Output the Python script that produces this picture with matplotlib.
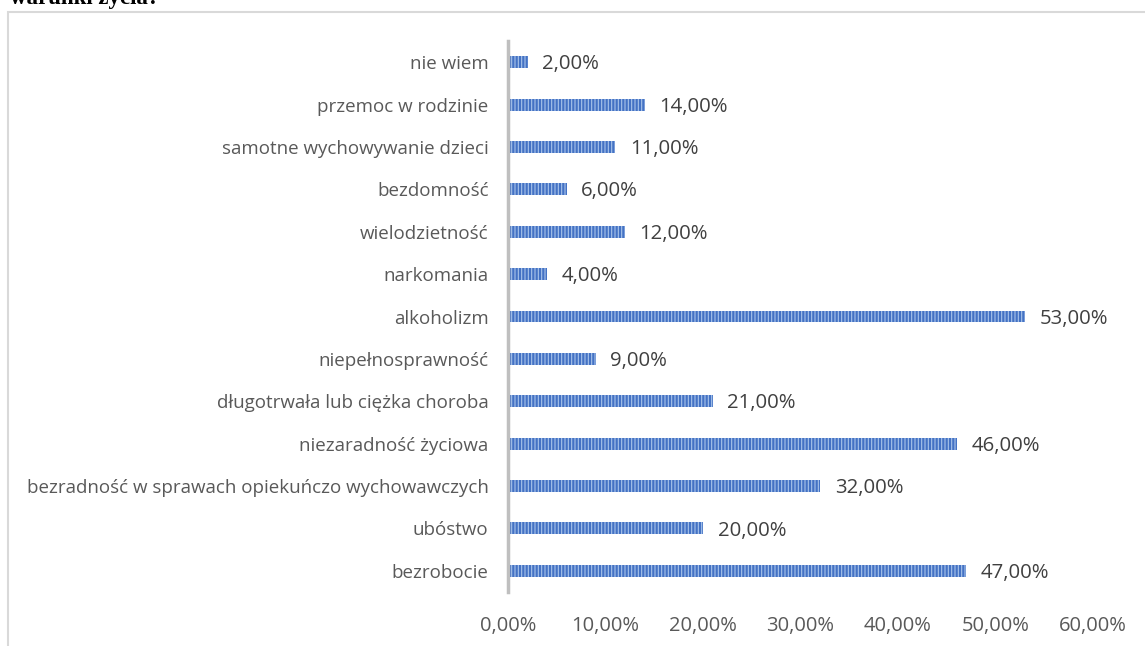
import matplotlib.pyplot as plt
from matplotlib.patches import Rectangle
from matplotlib.ticker import FuncFormatter

# categories from bottom to top
categories = [
    'bezrobocie', 'ubóstwo', 'bezradność w sprawach opiekuńczo wychowawczych',
    'niezaradność życiowa', 'długotrwała lub ciężka choroba', 'niepełnosprawność',
    'alkoholizm', 'narkomania', 'wielodzietność', 'bezdomność',
    'samotne wychowywanie dzieci', 'przemoc w rodzinie', 'nie wiem'
]
values = [47, 20, 32, 46, 21, 9, 53, 4, 12, 6, 11, 14, 2]
x_ticks = [0, 10, 20, 30, 40, 50, 60]

plt.rcParams['hatch.linewidth'] = 0.8
fig = plt.figure(figsize=(11.45, 6.46), dpi=100)
W, H = 1145, 646

# outer chart frame (partly cut off by the image edges)
fig.patches.append(Rectangle((8 / W, -0.1), 1.2, 1 - 12 / H + 0.1, transform=fig.transFigure,
                             fill=False, edgecolor='#D9D9D9', linewidth=1.5))

# clipped title from the page above
fig.text(10 / W, 1 - 4 / H, 'warunki życia?', fontsize=16.5, fontweight='bold',
         family='Liberation Serif', va='baseline', ha='left')

ax = fig.add_axes([508 / W, 1 - 592 / H, (1093 - 508) / W, (592 - 41) / H])
y = range(len(categories))
ax.barh(y, values, height=0.28, color='#4472C4', edgecolor='#A9C4EB', linewidth=0, hatch='|||||')

for yi, v in zip(y, values):
    ax.text(v + 1.5, yi - 0.05, f'{v},00%', va='center', ha='left', fontsize=14.7,
            color='#404040', family='Open Sans')

ax.set_xlim(0, 60)
ax.set_ylim(-0.5, len(categories) - 0.5)
ax.set_yticks(list(y))
ax.set_yticklabels(categories, fontsize=13.5, color='#595959', family='Open Sans')
ax.set_xticks(x_ticks)
ax.xaxis.set_major_formatter(FuncFormatter(lambda v, p: f'{v:.2f}%'.replace('.', ',')))
for lab in ax.get_xticklabels():
    lab.set_family('Open Sans')
ax.tick_params(axis='x', labelsize=14.5, labelcolor='#595959', length=0, pad=17)
ax.tick_params(axis='y', length=0, pad=14)

for s in ['top', 'right', 'bottom']:
    ax.spines[s].set_visible(False)
ax.spines['left'].set_color('#BFBFBF')
ax.spines['left'].set_linewidth(2.5)

fig.savefig('out.png', dpi=100)
